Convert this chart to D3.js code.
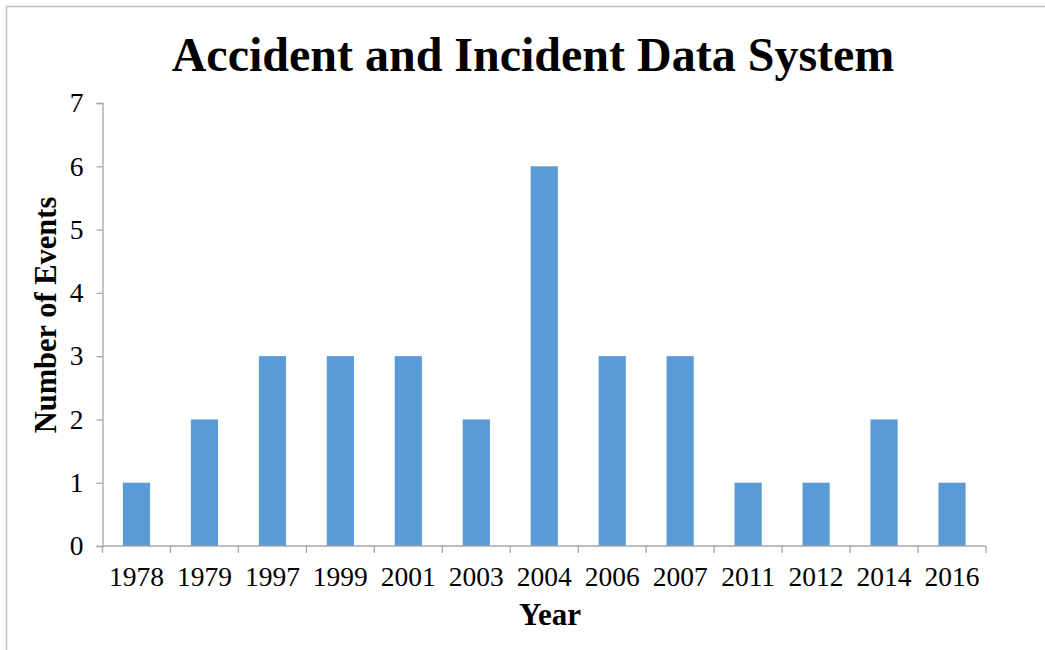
<!DOCTYPE html>
<html lang="en">
<head>
<meta charset="utf-8">
<title>Accident and Incident Data System</title>
<script src="https://cdn.jsdelivr.net/npm/d3@7"></script>
<style>
    body { margin: 0; background: #fff; }
    text { font-family: "Liberation Serif", "Times New Roman", serif; fill: #000; }
    .axis path, .axis line { stroke: #a6a6a6; stroke-width: 1.3px; }
    .axis text { font-size: 27.5px; font-family: "Liberation Serif", "Times New Roman", serif; }
</style>
</head>
<body>
<script>
// chart values
var years = ["1978", "1979", "1997", "1999", "2001", "2003", "2004", "2006", "2007", "2011", "2012", "2014", "2016"];
var events = [1, 2, 3, 3, 3, 2, 6, 3, 3, 1, 1, 2, 1];
var yTicks = [0, 1, 2, 3, 4, 5, 6, 7];

var width = 1045, height = 650;
var margin = {top: 103, right: 59, bottom: 104, left: 102.5};

var svg = d3.select("body").append("svg")
    .attr("width", width).attr("height", height);

// chart frame (only left + top visible in the shot)
svg.append("rect")
    .attr("x", 6.5).attr("y", 6.5)
    .attr("width", width + 10).attr("height", height + 10)
    .style("fill", "none").style("stroke", "#bfbfbf").style("stroke-width", 1.5);

var x = d3.scaleBand()
    .domain(years)
    .range([margin.left, width - margin.right])
    .paddingInner(0.6).paddingOuter(0.3);

var y = d3.scaleLinear()
    .domain([0, 7])
    .range([height - margin.bottom, margin.top]);

// bars
svg.selectAll("rect.bar").data(events).enter().append("rect")
    .attr("class", "bar")
    .attr("x", function(d, i) { return x(years[i]); })
    .attr("y", function(d) { return y(d); })
    .attr("width", x.bandwidth())
    .attr("height", function(d) { return y(0) - y(d); })
    .style("fill", "#5b9bd5");

// y axis
var yAxis = svg.append("g").attr("class", "axis")
    .attr("transform", "translate(" + margin.left + ",0)")
    .call(d3.axisLeft(y).tickValues(yTicks).tickFormat(d3.format("d"))
        .tickSize(6).tickSizeOuter(6).tickPadding(13));
yAxis.attr("font-size", null).attr("font-family", null);

// x axis, ticks on category boundaries
var step = x.step();
var xb = svg.append("g").attr("class", "axis")
    .attr("transform", "translate(0," + y(0) + ")");
xb.append("path")
    .attr("d", "M" + margin.left + ",0H" + (width - margin.right));
xb.selectAll("line").data(d3.range(years.length + 1)).enter().append("line")
    .attr("x1", function(i) { return margin.left + i * step; })
    .attr("x2", function(i) { return margin.left + i * step; })
    .attr("y1", 0).attr("y2", 7);
xb.selectAll("text").data(years).enter().append("text")
    .attr("x", function(d) { return x(d) + x.bandwidth() / 2; })
    .attr("y", 40)
    .attr("text-anchor", "middle")
    .text(function(d) { return d; });

// titles
svg.append("text")
    .attr("x", 533).attr("y", 71)
    .attr("text-anchor", "middle")
    .style("font-size", "48px").style("font-weight", "bold")
    .text("Accident and Incident Data System");

svg.append("text")
    .attr("x", 550).attr("y", 625)
    .attr("text-anchor", "middle")
    .style("font-size", "31px").style("font-weight", "bold")
    .text("Year");

svg.append("text")
    .attr("transform", "translate(56,315) rotate(-90)")
    .attr("text-anchor", "middle")
    .style("font-size", "30.5px").style("font-weight", "bold")
    .text("Number of Events");
</script>
</body>
</html>
